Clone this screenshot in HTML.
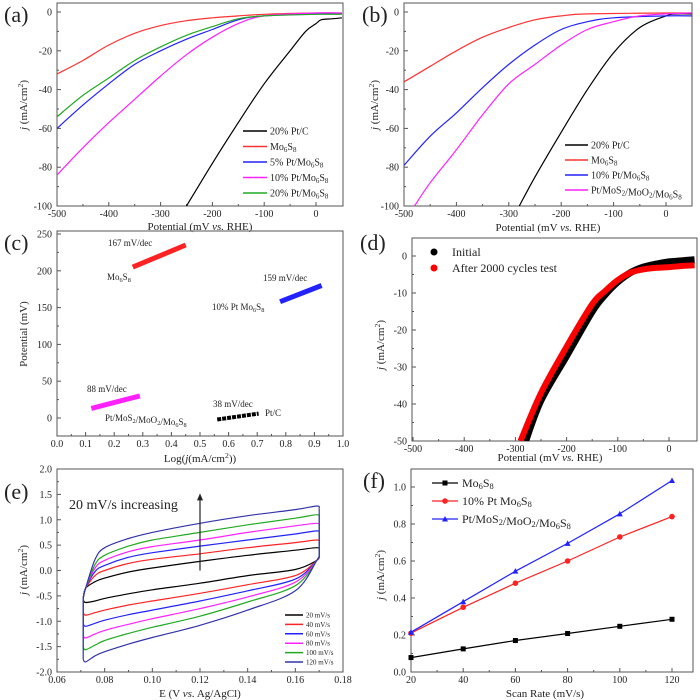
<!DOCTYPE html>
<html><head><meta charset="utf-8"><style>
html,body{margin:0;padding:0;background:#fff}
svg{display:block}
text{font-family:"Liberation Serif",serif;fill:#222}
</style></head><body>
<svg id="fig" width="700" height="700" viewBox="0 0 700 700" xmlns="http://www.w3.org/2000/svg"></svg>
<script>
// ---------- Panel (a) data ----------
const aPtCx=[50,30,10,0,-20,-50,-100,-150,-200,-250];
const aPtCy=[-3,-3.5,-4,-6,-10,-20,-37,-57,-78,-100];
const aMoX=[-500,-450,-400,-350,-300,-250,-200,-150,-100,0,50];
const aMoY=[-32,-25,-17,-11,-7,-4.5,-3,-2,-1.2,-0.5,-0.5];
const a5X=[-500,-450,-400,-350,-300,-250,-200,-150,-100,0,50];
const a5Y=[-60,-48,-37,-27,-20,-14,-9,-4,-2,-1,-1];
const a10X=[-500,-450,-400,-350,-300,-250,-200,-150,-100,0,50];
const a10Y=[-84,-70,-57,-45,-33,-22,-13,-6,-2,-0.5,-0.5];
const a20X=[-500,-450,-400,-350,-300,-250,-200,-150,-100,0,50];
const a20Y=[-54,-43,-34,-25,-18,-12,-7.5,-3.5,-2,-1.2,-1.2];
const aLegend=["20% Pt/C","Mo6S8","5% Pt/Mo6S8","10% Pt/Mo6S8","20% Pt/Mo6S8"];
// ---------- Panel (b) data ----------
const bPtCx=[-280,-250,-200,-150,-100,-50,0,20,50];
const bPtCy=[-100,-85,-62,-40,-21,-8,-2,-1,-1];
const bMoX=[-500,-450,-400,-350,-300,-250,-200,-150,0,50];
const bMoY=[-36,-28,-20,-13,-8,-4,-2,-1,-0.5,-0.5];
const b10X=[-500,-450,-400,-350,-300,-250,-200,-150,-100,0,50];
const b10Y=[-79,-64,-52,-39,-27,-17,-9,-5,-3,-2,-2];
const bHetX=[-480,-450,-400,-350,-300,-250,-200,-150,-100,-50,0,50];
const bHetY=[-100,-88,-71,-53,-37,-27,-17,-9,-5,-2,-1,-0.5];
const bLegend=["20% Pt/C","Mo6S8","10% Pt/Mo6S8","Pt/MoS2/MoO2/Mo6S8"];
// ---------- Panel (c) data ----------
const cMoX=[0.265,0.45], cMoY=[205,235];
const c10X=[0.78,0.925], c10Y=[158,180];
const cHetX=[0.12,0.29], cHetY=[13,30];
const cPtX=[0.56,0.705], cPtY=[-2,6];
// ---------- Panel (d) data ----------
const dInitX=[50,25,0,-25,-50,-75,-100,-125,-150,-200,-250,-280];
const dInitY=[-1,-1.3,-1.6,-2.2,-3,-4.5,-7,-10.5,-15,-27,-39,-50];
const dAfterX=[50,25,0,-25,-50,-75,-100,-125,-150,-200,-250,-290];
const dAfterY=[-2.5,-2.7,-3,-3.2,-3.6,-4.5,-6.5,-9.5,-13,-24.5,-37,-50];
// ---------- Panel (e) data ----------
const eX=[0.072,0.076,0.08,0.09,0.10,0.12,0.14,0.16,0.169];
const eRates=["20 mV/s","40 mV/s","60 mV/s","80 mV/s","100 mV/s","120 mV/s"];
const eUpper=[[-0.35,-0.22,-0.15,-0.03,0.05,0.18,0.3,0.4,0.45],[-0.35,-0.1,0.0,0.14,0.22,0.33,0.45,0.55,0.6],[-0.35,-0.02,0.1,0.26,0.35,0.48,0.6,0.72,0.78],[-0.35,0.05,0.2,0.37,0.47,0.6,0.75,0.88,0.93],[-0.35,0.12,0.3,0.48,0.6,0.75,0.9,1.03,1.1],[-0.35,0.22,0.45,0.63,0.75,0.93,1.08,1.2,1.27]];
const eLower=[[-0.63,-0.6,-0.55,-0.46,-0.38,-0.25,-0.1,0.02,0.2],[-0.88,-0.83,-0.78,-0.68,-0.6,-0.45,-0.28,-0.1,0.2],[-1.1,-1.04,-0.98,-0.87,-0.78,-0.6,-0.4,-0.17,0.2],[-1.33,-1.25,-1.18,-1.06,-0.95,-0.75,-0.52,-0.23,0.2],[-1.56,-1.47,-1.38,-1.24,-1.12,-0.9,-0.62,-0.3,0.2],[-1.8,-1.68,-1.6,-1.45,-1.32,-1.08,-0.78,-0.4,0.2]];
// ---------- Panel (f) data ----------
const fX=[20,40,60,80,100,120];
const fMo=[0.078,0.125,0.17,0.208,0.247,0.285];
const f10=[0.21,0.35,0.48,0.60,0.73,0.84];
const fHet=[0.215,0.38,0.545,0.695,0.855,1.035];

const NS="http://www.w3.org/2000/svg";
const svg=document.getElementById('fig');
function el(tag,attrs,parent){const e=document.createElementNS(NS,tag);for(const k in attrs)e.setAttribute(k,attrs[k]);(parent||svg).appendChild(e);return e;}
function lin(d0,d1,p0,p1){return v=>p0+(v-d0)*(p1-p0)/(d1-d0);}
function sub(t){return t.replace(/Mo6S8/g,'Mo<tspan font-size="70%" dy="2">6</tspan><tspan dy="-2">S</tspan><tspan font-size="70%" dy="2">8</tspan><tspan dy="-2"></tspan>').replace(/MoS2/g,'MoS<tspan font-size="70%" dy="2">2</tspan><tspan dy="-2"></tspan>').replace(/MoO2/g,'MoO<tspan font-size="70%" dy="2">2</tspan><tspan dy="-2"></tspan>');}
function txt(x,y,s,size,opts,name){const t=el('text',Object.assign({x:x,y:y,'font-size':size},opts||{}));t.innerHTML=sub(s);return t;}

function axes(o){
  const g=el('g',{});
  
  
  el('rect',{x:o.left,y:o.top,width:o.right-o.left,height:o.bottom-o.top,fill:'none',stroke:'#555','stroke-width':1},g);
  o.xt.forEach((v,i)=>{const x=o.sx(v);
    el('line',{x1:x,x2:x,y1:o.bottom,y2:o.bottom-4,stroke:'#555'},g);
    if(o.xminor&&i<o.xt.length-1){const m=o.sx((v+o.xt[i+1])/2);if(m<o.right)el('line',{x1:m,x2:m,y1:o.bottom,y2:o.bottom-2,stroke:'#555'},g);}
    txt(x,o.bottom+11,o.xl[i],10,{'text-anchor':'middle'},'x-tick-label');});
  o.yt.forEach((v,i)=>{const y=o.sy(v);
    el('line',{x1:o.left,x2:o.left+4,y1:y,y2:y,stroke:'#555'},g);
    if(i<o.yt.length-1){const m=o.sy((v+o.yt[i+1])/2);if(m>o.top)el('line',{x1:o.left,x2:o.left+2,y1:m,y2:m,stroke:'#555'},g);}
    txt(o.left-5,y+3.5,o.yl[i],10,{'text-anchor':'end'},'y-tick-label');});
}
function path(xs,ys,sx,sy,color,w,name,smooth){
  const P=xs.map((x,i)=>[sx(x),sy(ys[i])]);let d='M'+P[0][0].toFixed(1)+','+P[0][1].toFixed(1);
  for(let i=0;i<P.length-1;i++){
    if(smooth){const p0=P[i-1]||P[i],p1=P[i],p2=P[i+1],p3=P[i+2]||P[i+1];
      const c1=[p1[0]+(p2[0]-p0[0])/6,p1[1]+(p2[1]-p0[1])/6],c2=[p2[0]-(p3[0]-p1[0])/6,p2[1]-(p3[1]-p1[1])/6];
      d+='C'+c1.map(v=>v.toFixed(1))+' '+c2.map(v=>v.toFixed(1))+' '+p2[0].toFixed(1)+','+p2[1].toFixed(1);}
    else d+='L'+P[i+1][0].toFixed(1)+','+P[i+1][1].toFixed(1);}
  const p=el('path',{d:d,fill:'none',stroke:color,'stroke-width':w||1.2,'stroke-linejoin':'round'});return p;}
function ylabel(x,y,s,name){const t=el('text',{x:0,y:0,'font-size':11,'text-anchor':'middle',transform:`translate(${x},${y}) rotate(-90)`});t.innerHTML=s;}
function clip(id,l,t,r,b){const c=el('clipPath',{id:id});el('rect',{x:l,y:t,width:r-l,height:b-t},c);}
const jlab='<tspan font-style="italic">j</tspan> (mA/cm<tspan font-size="70%" dy="-4">2</tspan><tspan dy="4">)</tspan>';
const potlab='Potential (mV <tspan font-style="italic">vs.</tspan> RHE)';
const mvT=[-500,-400,-300,-200,-100,0], mvL=mvT.map(String);

// ===== (a) =====
{const sx=lin(-500,0,57,316),sy=lin(0,-100,12,206);
axes({name:'panel-a',left:57,right:343,top:3,bottom:206,sx,sy,xt:mvT,xl:mvL,xminor:true,yt:[-100,-80,-60,-40,-20,0],yl:['-100','-80','-60','-40','-20','0']});
clip('ca',57,3,343,206);const g=el('g',{'clip-path':'url(#ca)'});
const cols=['#000','#f33','#22f','#f2f','#2a2'];
[[aPtCx,aPtCy],[aMoX,aMoY],[a5X,a5Y],[a10X,a10Y],[a20X,a20Y]].forEach((s,i)=>g.appendChild(path(s[0],s[1],sx,sy,cols[i],1.2,'curve-a-'+i,true)));
aLegend.forEach((s,i)=>{const y=131+i*15.5;const l=el('line',{x1:243,x2:267,y1:y,y2:y,stroke:cols[i],'stroke-width':1.5});txt(270,y+3.5,s,10,{},'legend-entry');});
txt(4,22,'(a)',22,{},'panel-label-a');
ylabel(27,105,jlab,'y-axis-title-a');
const t=el('text',{x:200,y:230,'font-size':11,'text-anchor':'middle'});t.innerHTML=potlab;}

// ===== (b) =====
{const sx=lin(-500,0,404,666),sy=lin(0,-100,12,206);
axes({name:'panel-b',left:404,right:692,top:3,bottom:206,sx,sy,xt:mvT,xl:mvL,xminor:true,yt:[-100,-80,-60,-40,-20,0],yl:['-100','-80','-60','-40','-20','0']});
clip('cb',404,3,692,206);const g=el('g',{'clip-path':'url(#cb)'});
const cols=['#000','#f33','#22f','#f2f'];
[[bPtCx,bPtCy],[bMoX,bMoY],[b10X,b10Y],[bHetX,bHetY]].forEach((s,i)=>g.appendChild(path(s[0],s[1],sx,sy,cols[i],1.2,'curve-b-'+i,true)));
bLegend.forEach((s,i)=>{const y=145+i*15;const l=el('line',{x1:565,x2:588,y1:y,y2:y,stroke:cols[i],'stroke-width':1.5});txt(591,y+3.5,s,10,{},'legend-entry');});
txt(362,22,'(b)',22,{},'panel-label-b');
ylabel(378,105,jlab,'y-axis-title-b');
const t=el('text',{x:548,y:231,'font-size':11,'text-anchor':'middle'});t.innerHTML=potlab;}

// ===== (c) =====
{const sx=lin(0,1,57,343),sy=lin(0,250,418,234);
const xt=[0,0.1,0.2,0.3,0.4,0.5,0.6,0.7,0.8,0.9,1.0];
axes({name:'panel-c',left:57,right:343,top:231,bottom:436,sx,sy,xt:xt,xl:xt.map(v=>v.toFixed(1)),xminor:true,yt:[0,50,100,150,200,250],yl:['0','50','100','150','200','250']});
[[cMoX,cMoY,'#f22'],[c10X,c10Y,'#22f'],[cHetX,cHetY,'#f2f'],[cPtX,cPtY,'#000']].forEach((s,i)=>{const p=path(s[0],s[1],sx,sy,s[2],i==3?4:5,'tafel-'+i);if(i==3)p.setAttribute('stroke-dasharray','4 1');});
txt(108,246,'167 mV/dec',9,{fill:'#f22'},'tafel-slope-label');
txt(107,280,'Mo6S8',9,{fill:'#f22'},'tafel-series-label');
txt(263,281,'159 mV/dec',9,{fill:'#22f'},'tafel-slope-label');
txt(212,310,'10% Pt Mo6S8',9,{fill:'#22f'},'tafel-series-label');
txt(87,392,'88 mV/dec',9,{fill:'#f2f'},'tafel-slope-label');
txt(105,421,'Pt/MoS2/MoO2/Mo6S8',9,{fill:'#f2f'},'tafel-series-label');
txt(213,407,'38 mV/dec',9,{fill:'#222'},'tafel-slope-label');
txt(265,416,'Pt/C',9,{fill:'#222'},'tafel-series-label');
txt(4,250,'(c)',22,{},'panel-label-c');
ylabel(27,334,'Potential (mV)','y-axis-title-c');
const t=el('text',{x:200,y:462,'font-size':11,'text-anchor':'middle'});t.innerHTML='Log(<tspan font-style="italic">j</tspan>(mA/cm<tspan font-size="70%" dy="-4">2</tspan><tspan dy="4">))</tspan>';}

// ===== (d) =====
{const sx=lin(-500,0,413,669),sy=lin(0,-50,256,441);
axes({name:'panel-d',left:412,right:697,top:238,bottom:441,sx,sy,xt:mvT,xl:mvL,xminor:true,yt:[-50,-40,-30,-20,-10,0],yl:['-50','-40','-30','-20','-10','0']});
clip('cd',412,238,697,441);const g=el('g',{'clip-path':'url(#cd)'});
g.appendChild(path(dInitX,dInitY,sx,sy,'#000',7,'initial-curve',true));
g.appendChild(path(dAfterX,dAfterY,sx,sy,'#f00',6,'after-cycles-curve',true));
[['#000','Initial',252],['#f00','After 2000 cycles test',268]].forEach(r=>{const c=el('circle',{cx:434,cy:r[2],r:3.5,fill:r[0]});txt(452,r[2]+4,r[1],12,{},'legend-entry');});
txt(360,250,'(d)',22,{},'panel-label-d');
ylabel(384,345,jlab,'y-axis-title-d');
const t=el('text',{x:550,y:461,'font-size':11,'text-anchor':'middle'});t.innerHTML=potlab;}

// ===== (e) =====
{const sx=lin(0.06,0.18,57,343),sy=lin(2,-2,469,672);
const xt=[0.06,0.08,0.10,0.12,0.14,0.16,0.18];
const yt=[-2,-1.5,-1,-0.5,0,0.5,1,1.5,2];
axes({name:'panel-e',left:57,right:343,top:469,bottom:672,sx,sy,xt:xt,xl:xt.map(v=>v.toFixed(2)),xminor:true,yt:yt,yl:yt.map(v=>v.toFixed(1))});
const cols=['#000','#f22','#22f','#f2f','#2a2','#33a'];
eRates.forEach((r,i)=>{
  const n=eX.length;
  const up=[0.071].concat(eX,[0.17]), upY=[-0.55].concat(eUpper[i],[eUpper[i][n-1]-0.05]);
  path(up,upY,sx,sy,cols[i],1.2,'cv-upper-'+r.replace(' ','-'),true);
  const lo=[0.17].concat(eX.slice().reverse(),[0.071]), loY=[eLower[i][n-1]+0.1].concat(eLower[i].slice().reverse(),[eLower[i][0]+0.05]);
  path(lo,loY,sx,sy,cols[i],1.2,'cv-lower-'+r.replace(' ','-'),true);
  path([0.17,0.17],[eUpper[i][n-1]-0.05,eLower[i][n-1]+0.1],sx,sy,cols[i],1.2,'cv-right-edge');
  path([0.071,0.071],[eLower[i][0]+0.05,-0.55],sx,sy,cols[i],1.2,'cv-left-edge');
  const y=615+i*9.4;const l=el('line',{x1:285,x2:303,y1:y,y2:y,stroke:cols[i],'stroke-width':1.5});
  txt(306,y+2.5,r,7,{},'legend-entry');});
const ax=sx(0.12);const ar=el('line',{x1:ax,x2:ax,y1:sy(0),y2:sy(1.5)+5,stroke:'#222','stroke-width':1.2});
el('polygon',{points:`${ax-3},${sy(1.5)+6} ${ax+3},${sy(1.5)+6} ${ax},${sy(1.5)-1}`,fill:'#222'});
txt(69,509,'20 mV/s increasing',14,{},'annotation');
txt(4,499,'(e)',22,{},'panel-label-e');
ylabel(27,570,jlab,'y-axis-title-e');
const t=el('text',{x:200,y:697,'font-size':11,'text-anchor':'middle'});t.innerHTML='E (V <tspan font-style="italic">vs.</tspan> Ag/AgCl)';}

// ===== (f) =====
{const sx=lin(20,120,411,672),sy=lin(0,1,672,487);
const xt=[20,40,60,80,100,120],yt=[0,0.2,0.4,0.6,0.8,1.0];
axes({name:'panel-f',left:411,right:693,top:469,bottom:672,sx,sy,xt:xt,xl:xt.map(String),xminor:true,yt:yt,yl:yt.map(v=>v.toFixed(1))});
const ser=[[fMo,'#000','s','Mo6S8'],[f10,'#f22','c','10% Pt Mo6S8'],[fHet,'#22f','t','Pt/MoS2/MoO2/Mo6S8']];
ser.forEach((s,i)=>{path(fX,s[0],sx,sy,s[1],1.2,'series-line-'+i);
  fX.forEach((x,j)=>{const cx=sx(x),cy=sy(s[0][j]);let m;
    if(s[2]=='s')m=el('rect',{x:cx-2.5,y:cy-2.5,width:5,height:5,fill:s[1]});
    else if(s[2]=='c')m=el('circle',{cx:cx,cy:cy,r:2.8,fill:s[1]});
    else m=el('polygon',{points:`${cx-3},${cy+2.5} ${cx+3},${cy+2.5} ${cx},${cy-3}`,fill:s[1]});
    });
  const y=483+i*18;const l=el('line',{x1:432,x2:458,y1:y,y2:y,stroke:s[1],'stroke-width':1.2});
  const cx=445;let m;
  if(s[2]=='s')m=el('rect',{x:cx-2.5,y:y-2.5,width:5,height:5,fill:s[1]});else if(s[2]=='c')m=el('circle',{cx:cx,cy:y,r:2.8,fill:s[1]});else m=el('polygon',{points:`${cx-3},${y+2.5} ${cx+3},${y+2.5} ${cx},${y-3}`,fill:s[1]});
  
  txt(462,y+4,s[3],12,{},'legend-entry');});
txt(363,488,'(f)',22,{},'panel-label-f');
ylabel(384,575,jlab,'y-axis-title-f');
const t=el('text',{x:545,y:697,'font-size':11,'text-anchor':'middle'});t.textContent='Scan Rate (mV/s)';}
</script>
</body></html>
